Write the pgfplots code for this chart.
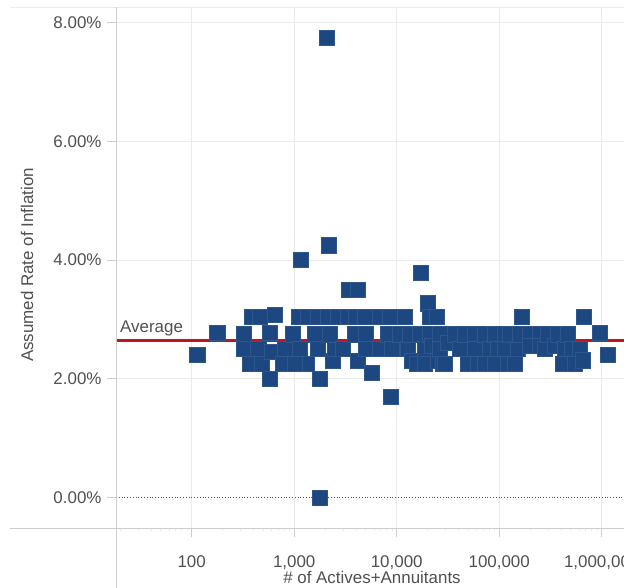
\documentclass[border=0pt]{standalone}
\usepackage{pgfplots}
\pgfplotsset{compat=1.18}
\usepackage{fontspec}
\setmainfont{Liberation Sans}
\definecolor{markblue}{RGB}{28,71,128}
\definecolor{avgred}{RGB}{192,20,32}
\definecolor{txtgray}{RGB}{80,80,80}
\definecolor{gridgray}{RGB}{235,235,235}
\definecolor{axgray}{RGB}{205,205,205}
\begin{document}
\begin{tikzpicture}[font=\fontsize{17}{20}\selectfont]
\begin{axis}[
  at={(0,0)}, anchor=south west,
  scale only axis, width=508bp, height=521bp,
  xmode=log, log basis x=10,
  xmin=18.26, xmax=1651000,
  ymin=-0.517, ymax=8.261,
  axis line style={draw=none},
  xtick={100,1000,10000,100000,1000000},
  xticklabels={100,{1,000},{10,000},{100,000},{1,000,000}},
  minor xtick={20,30,40,50,60,70,80,90,200,300,400,500,600,700,800,900,2000,3000,4000,5000,6000,7000,8000,9000,20000,30000,40000,50000,60000,70000,80000,90000,200000,300000,400000,500000,600000,700000,800000,900000},
  ytick={2,4,6,8},
  yticklabels={2.00\%,4.00\%,6.00\%,8.00\%},
  extra y ticks={0}, extra y tick labels={0.00\%},
  extra y tick style={grid style={black!65, dotted, line width=0.9bp}},
  xmajorgrids, ymajorgrids,
  grid style={gridgray, line width=0.8bp},
  tick pos=left, tick align=outside,
  major tick length=9bp, minor tick length=3bp,
  tick style={axgray, line width=0.8bp},
  minor tick style={gridgray, line width=0.8bp},
  xticklabel style={text=txtgray, anchor=base, yshift=-30bp},
  yticklabel style={text=txtgray, anchor=east, xshift=-2bp},
  xlabel={\# of Actives+Annuitants},
  ylabel={Assumed Rate of Inflation},
  every axis x label/.style={at={(axis description cs:0.5039,-0.094)}, anchor=center, text=txtgray},
  every axis y label/.style={at={(axis description cs:-0.1752,0.5048)}, anchor=center, rotate=90, text=txtgray},
  clip=false,
]
\addplot[avgred, line width=2.8bp] coordinates {(18.26,2.645) (1651000,2.645)};
\node[anchor=base west, inner sep=0pt, text=txtgray] at (axis cs:18.26,2.645) [xshift=4bp, yshift=8bp] {Average};
\addplot[only marks, mark=square*, mark size=7.6bp,
  mark options={fill=markblue, draw=markblue!92!white, line width=0.3bp}] table {
x y
113 2.40
177 2.78
1165 4.00
2185 4.25
3425 3.50
4193 3.50
17270 3.78
8800 1.70
1785 0.00
2089 7.75
20210 3.27
324 2.75
324 2.50
371 2.25
485 2.25
388 3.04
464 3.04
650 3.08
581 2.77
444 2.50
581 2.00
607 2.45
813 2.50
778 2.25
1114 3.04
1363 3.04
973 2.75
1139 2.50
1333 2.25
1018 2.25
1785 2.00
1595 2.75
1707 3.04
1707 2.50
2391 2.30
2500 2.50
2137 3.04
2675 3.04
2235 2.75
2993 2.50
3349 3.04
4009 3.04
3920 2.75
4193 2.30
4906 3.04
5018 2.75
5018 2.50
5741 2.10
6873 3.04
6873 2.50
8227 2.75
8603 3.04
8999 2.50
10770 2.75
12050 3.04
12890 2.50
13480 2.75
14100 2.30
15780 2.25
16880 2.75
18890 2.50
18890 2.25
21130 3.04
21130 2.75
22100 2.55
24730 3.04
25290 2.30
26450 2.75
26450 2.50
28300 2.25
29600 2.25
31660 2.60
37060 2.75
41460 2.50
46390 2.75
49620 2.25
58060 2.75
58060 2.50
62110 2.25
72700 2.75
72700 2.25
81330 2.50
91010 2.75
91010 2.25
97340 2.50
113900 2.75
113900 2.50
121800 2.25
127500 2.75
142600 2.25
152600 2.50
159600 2.75
166900 3.04
199800 2.75
199800 2.55
250000 2.75
250000 2.55
279800 2.50
299300 2.75
350300 2.55
374800 2.75
419200 2.25
438500 2.50
469000 2.75
513200 2.50
549000 2.25
614200 2.50
657000 2.31
672000 3.04
962500 2.77
1152000 2.40
};
\end{axis}
\draw[axgray, line width=0.8bp] (-106bp,0) -- (508bp,0);
\draw[gridgray, line width=0.8bp] (-106bp,521bp) -- (508bp,521bp);
\draw[axgray, line width=0.8bp] (0,-60bp) -- (0,521bp);
\pgfresetboundingbox
\path[use as bounding box] (-116bp,-60bp) rectangle (508bp,528bp);
\end{tikzpicture}
\end{document}
